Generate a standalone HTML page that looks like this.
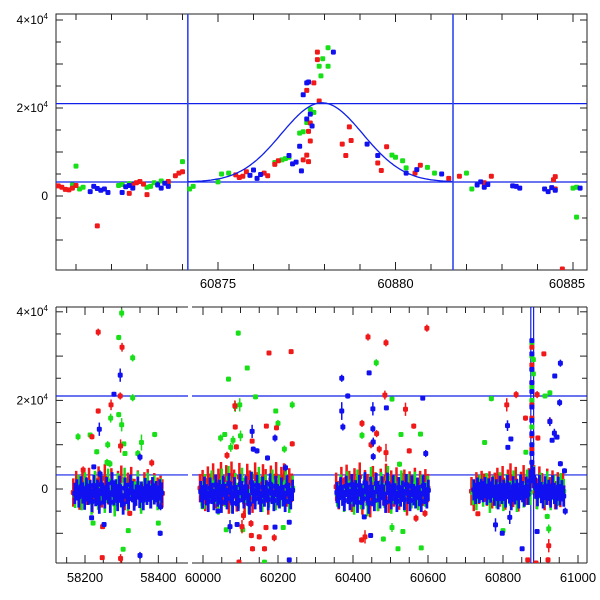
<!DOCTYPE html>
<html><head><meta charset="utf-8">
<style>
html,body{margin:0;padding:0;background:#fff;}
svg{display:block;font-family:"Liberation Sans",sans-serif;}
</style></head>
<body>
<svg id="chart" width="600" height="600" viewBox="0 0 600 600" xmlns="http://www.w3.org/2000/svg">
<defs>
<clipPath id="clipTop"><rect x="56" y="14" width="531" height="256"/></clipPath>
<clipPath id="clipS1"><rect x="56" y="307" width="132" height="256"/></clipPath>
<clipPath id="clipS2"><rect x="192" y="307" width="395" height="256"/></clipPath>
</defs>
<g id="top"></g>
<g id="bot"></g>
</svg>
<script>
// ---------- data (flux in units of 1e3) ----------
const topRed = [[60870.5,2.3],[60870.6,2.0],[60870.7,1.5],[60870.8,1.4],[60870.9,1.8],[60871.0,2.4],[60871.6,-6.8],[60872.5,0.6],[60872.6,2.5],[60872.7,3.0],[60872.8,3.3],[60872.9,2.7],[60873.0,0.3],[60873.6,3.3],[60873.8,4.6],[60873.9,5.2],[60874.0,5.5],[60875.5,4.8],[60875.6,4.2],[60875.7,4.5],[60875.8,5.5],[60876.3,5.2],[60876.4,4.6],[60876.6,7.2],[60876.7,8.0],[60877.4,8.2],[60877.5,9.3],[60877.6,12.5],[60877.55,7.8],[60877.8,32.7],[60877.8,31.0],[60877.7,25.7],[60877.5,24.0],[60877.85,21.6],[60877.6,16.6],[60877.55,14.7],[60878.7,15.7],[60878.5,11.8],[60878.6,9.2],[60878.75,12.6],[60879.5,7.5],[60879.6,5.8],[60879.75,11.2],[60880.55,5.2],[60880.7,7.0],[60881.5,4.0],[60881.8,4.5],[60882.5,3.0],[60882.7,4.5],[60884.5,4.4],[60884.5,1.6],[60884.7,-16.6],[60884.45,3.7]];
const topGreen = [[60870.9,2.5],[60871.0,6.8],[60871.1,1.6],[60871.2,2.0],[60872.2,2.4],[60872.3,2.6],[60872.5,2.8],[60873.0,2.0],[60873.1,2.2],[60873.2,3.0],[60873.4,3.4],[60873.6,2.6],[60874.0,7.8],[60874.2,1.6],[60874.3,2.2],[60875.0,3.2],[60875.1,5.0],[60875.3,5.2],[60876.6,7.6],[60876.8,8.2],[60876.9,8.5],[60877.0,8.8],[60877.3,14.3],[60877.4,14.6],[60877.5,16.7],[60877.6,19.7],[60877.7,19.0],[60878.1,33.7],[60877.95,31.2],[60877.85,29.5],[60877.9,27.3],[60878.1,29.5],[60880.0,8.8],[60879.9,9.3],[60880.2,8.0],[60880.3,6.4],[60880.9,6.5],[60881.1,5.2],[60882.0,5.2],[60882.15,1.6],[60885.0,1.8],[60885.1,2.0],[60885.1,-4.8]];
const topBlue = [[60871.4,1.0],[60871.5,2.2],[60871.6,1.7],[60871.7,1.3],[60871.8,1.6],[60871.9,0.8],[60872.3,0.8],[60872.4,2.1],[60872.5,2.4],[60872.6,1.8],[60873.3,2.5],[60873.4,1.8],[60873.5,2.9],[60873.6,2.2],[60875.9,4.7],[60876.0,5.9],[60876.1,4.0],[60876.2,4.9],[60877.0,9.2],[60877.1,7.3],[60877.2,7.7],[60877.3,11.3],[60877.35,5.7],[60877.6,18.6],[60877.65,15.9],[60877.5,17.5],[60877.4,23.0],[60877.5,25.7],[60877.55,25.9],[60878.25,32.7],[60879.2,11.8],[60879.5,9.2],[60880.3,5.2],[60880.6,6.0],[60881.3,5.0],[60882.3,2.5],[60882.4,3.2],[60882.5,2.0],[60882.6,2.6],[60883.3,2.3],[60883.4,2.2],[60883.5,1.8],[60884.2,1.6],[60884.3,1.0],[60884.4,1.9],[60884.5,1.3],[60885.2,1.8]];
const modelParams = [60877.93, 18.0, 3.18, 1.15]; // center, amplitude, baseline, sigma
const hLines = [21.0, 3.18];
const vLines = [60874.15, 60881.62];

const botRed = [[58236,35.4,0.8],[58301,32,1],[58236,17.6,0.6],[58271,19,1.2],[58296,21,0.8],[58297,9.7,1.5],[58195,4.3,0.8],[58219,11.8,0.6],[58382,5.9,0.8],[58248,-8.5,0.5],[58247,-15.5,0.5],[58297,-15.7,1],[58322,-5.5,0.6],
[60176,30.7,0.5],[60235,31,0.5],[60085,18.8,1.2],[60086,14,0.6],[60169,14.2,0.5],[60196,13.8,0.5],[60131,10.8,0.5],[60238,10.2,0.6],[60089,9.5,0.6],[60064,7.6,0.8],[60108,-6,1],[60128,-7.8,0.8],[60168,-8.7,0.6],[60129,-10.5,0.6],[60150,-10.8,0.6],[60190,-11,0.8],[60132,-13.5,0.6],[60164,-13.5,0.6],[60096,-16.5,0.6],[60104,-8.5,1.5],
[60597,36.3,0.8],[60440,34.3,0.8],[60488,33,0.8],[60485,21.2,1],[60540,18,1.5],[60562,14.2,0.6],[60424,14.8,0.8],[60463,12.5,0.8],[60448,10,0.8],[60470,9,0.8],[60488,8.2,2],[60550,8.6,0.6],[60423,-11.5,0.6],[60432,-10.8,1.5],[60592,-5.5,0.8],[60568,-6.6,0.8],
[60810,19,1.5],[60835,21.3,0.8],[60860,16,0.6],[60891,21.3,0.8],[60909,30.5,0.5],[60925,15.3,0.8],[60893,11.5,0.6],[60922,-12.8,1.5],[60920,-16,0.6],[60866,-16,0.5],[60733,-5.6,0.5],[60888,-16.7,0.5],
[60877,32,0.5],[60877,28,0.5],[60877,24,0.5],[60877,19,0.5],[60877,16,0.5],[60877,12,0.5],[60877,9,0.5]];
const botGreen = [[58300,39.7,1],[58292,34.2,0.6],[58330,29.6,0.8],[58330,20.6,0.8],[58292,16.8,0.6],[58270,16,1],[58300,14.5,1.5],[58181,11.8,0.8],[58214,12.2,0.5],[58262,10,0.8],[58306,10.2,0.5],[58354,10.5,1.8],[58390,12.3,0.6],[58232,8.4,0.6],[58260,6,0.8],[58309,8,0.5],[58344,8,0.8],[58268,5.7,0.8],[58222,-7.7,0.5],[58318,-9.4,0.5],[58304,-13.6,0.5],[58400,-7.7,0.5],
[60094,35.2,0.6],[60118,27.3,0.5],[60068,24.8,0.5],[60140,20.8,0.5],[60086,18.6,1.2],[60098,19,1.5],[60194,17.6,0.5],[60200,14.8,0.8],[60238,19,0.8],[60047,11.5,0.8],[60058,12.3,0.5],[60080,11,1],[60100,12,1.2],[60074,9.4,1],[60217,9,0.8],[60062,-9.2,0.5],[60106,-9.2,0.5],[60214,-8.7,0.5],[60164,-16.5,0.5],[60000,-4,0.5],
[60462,28.5,0.8],[60504,20.3,0.5],[60424,12.1,0.8],[60528,12.3,0.5],[60580,12.4,0.5],[60524,5.6,0.6],[60504,-8.7,1],[60533,-9.6,0.5],[60520,-13.5,0.5],[60481,-11.3,0.6],[60582,-13.3,0.5],
[60769,20.4,0.6],[60751,10.5,0.5],[60861,8.3,0.5],[60925,21.7,0.6],[60912,21,0.5],[60922,-9,1],[60918,-6.2,0.6],[60881,29.2,0.5],[60881,26,0.5],[60800,-9.4,0.5],[60788,-3,0.5],
[60877,33,0.5],[60877,30,0.5],[60877,27,0.5],[60877,23,0.5],[60877,20,0.5],[60877,14,0.5],[60877,10,0.5]];
const botBlue = [[58239,13.5,1.5],[58296,25.7,1.5],[58279,21.4,0.5],[58224,5,0.5],[58350,7.2,0.8],[58241,3.4,0.8],[58218,-6.5,0.5],[58252,-8,0.5],[58350,-15,0.8],[58405,-10,0.6],[58406,-4,0.8],
[60131,13,1.5],[60192,11.5,0.8],[60134,9,0.6],[60144,8.6,0.6],[60172,7,0.6],[60220,4.8,0.8],[60072,-8.5,1.5],[60091,-8,0.5],[60192,-8.6,0.5],[60230,-7.5,0.5],[60230,-16,0.5],[60040,-5,0.5],
[60370,25,0.8],[60370,17.6,2],[60373,14,0.8],[60386,21,0.6],[60443,26.2,0.5],[60453,18.1,1.5],[60453,13.6,0.8],[60454,10.6,1],[60489,18.3,0.5],[60454,7.3,0.8],[60586,20.5,0.5],[60594,8,0.8],[60447,-10.5,0.5],[60430,-6.3,0.5],
[60953,28.4,0.8],[60938,25.5,0.5],[60951,19.5,0.8],[60812,14.3,1.2],[60821,11.3,0.5],[60813,9.4,0.5],[60925,15.2,1],[60937,12.6,1],[60944,11.7,0.5],[60931,11,0.5],[60780,-8.1,1.5],[60798,-10,0.5],[60818,-6.4,1.5],[60851,-13.5,0.5],[60891,-9.6,0.5],[60953,5.7,0.6],[60964,4.1,0.6],[60966,-5,0.8],
[60877,33.5,0.5],[60877,30.5,0.5],[60877,27,0.5],[60877,24,0.5],[60877,22,0.5],[60877,18.5,0.5],[60877,15.5,0.5],[60877,12.5,0.5],[60877,10,0.5],[60877,8,0.5],[60877,6,0.5]];

// dense seasonal clouds: "mjd flux" pairs
const blobRed = "58168 -0.8,58176 0.9,58185 -1.5,58193 1.2,58202 -0.4,58211 1.6,58220 -2.2,58228 0.7,58237 1.9,58246 -1.0,58254 2.4,58263 -0.3,58272 1.5,58281 -2.8,58290 0.9,58299 2.1,58308 -1.6,58317 0.5,58326 1.8,58335 -0.9,58344 1.0,58353 -1.8,58362 0.6,58371 1.3,58380 -1.2,58389 0.4,58398 -0.6,58406 -0.2,58411 -1.0,"+
"59992 0.2,59999 1.1,60006 -1.8,60013 1.9,60020 0.3,60027 2.6,60034 -1.2,60041 1.4,60048 2.9,60055 -0.6,60062 2.2,60069 -2.4,60076 3.0,60083 1.2,60090 -1.9,60097 2.7,60104 0.4,60111 -3.0,60118 2.5,60125 1.0,60132 -2.2,60139 2.8,60146 0.6,60153 -1.4,60160 2.4,60167 1.3,60174 -2.6,60181 2.1,60188 0.2,60195 2.9,60202 -1.0,60209 1.8,60216 2.6,60223 -0.8,60230 1.5,60237 0.3,"+
"60355 0.5,60362 -1.4,60369 1.8,60376 -0.6,60383 2.3,60390 0.9,60397 -2.0,60404 1.5,60411 -0.3,60418 2.8,60425 -2.6,60432 1.1,60439 0.2,60446 -3.2,60453 2.0,60460 0.6,60467 -1.8,60474 1.4,60481 -0.4,60488 2.5,60495 -2.2,60502 1.0,60509 -0.8,60516 1.7,60523 -1.5,60530 0.4,60537 1.2,60544 -2.8,60551 0.8,60558 -0.2,60565 1.6,60572 -1.1,60579 0.9,60586 -0.6,60593 1.3,60600 0.2,"+
"60716 -0.5,60722 -1.8,60729 0.6,60736 -0.2,60743 0.9,60750 0.3,60757 -0.6,60764 0.8,60771 -1.2,60778 0.5,60785 1.6,60792 -0.8,60799 2.0,60806 -1.5,60813 1.2,60820 2.6,60827 -0.9,60834 1.8,60841 -1.9,60848 0.7,60855 2.2,60862 -0.4,60869 1.5,60876 3.4,60883 2.2,60890 -1.3,60897 1.9,60904 0.4,60911 -1.6,60918 1.4,60925 -0.5,60932 1.0,60939 -1.4,60946 0.6,60953 -0.9,60960 0.4";
const blobGreen = "58173 -1.5,58182 0.4,58191 -2.0,58200 1.0,58209 -0.8,58218 -3.0,58227 1.3,58236 -1.9,58245 0.2,58254 -2.6,58263 1.8,58272 -0.5,58281 -3.4,58290 0.8,58299 -1.4,58308 2.0,58317 -2.2,58326 0.1,58335 -1.1,58344 1.2,58353 -2.8,58362 -0.3,58371 0.9,58380 -1.6,58389 0.3,58398 -2.0,58407 -0.4,"+
"59996 -1.0,60005 0.6,60014 -2.2,60023 1.4,60032 -0.5,60041 -3.0,60050 1.8,60059 -1.2,60068 2.4,60077 -2.6,60086 0.8,60095 -1.6,60104 2.0,60113 -0.4,60122 -2.8,60131 1.1,60140 -1.0,60149 2.2,60158 -2.4,60167 0.5,60176 -1.4,60185 1.6,60194 -2.0,60203 0.3,60212 -1.2,60221 1.5,60230 -2.6,60239 0.2,"+
"60358 -1.2,60367 0.5,60376 -2.4,60385 1.2,60394 -0.6,60403 -3.0,60412 1.6,60421 -1.8,60430 0.4,60439 -3.4,60448 2.2,60457 -0.9,60466 -2.2,60475 1.0,60484 -1.5,60493 2.4,60502 -2.8,60511 0.2,60520 -1.0,60529 1.4,60538 -2.4,60547 0.6,60556 -1.6,60565 1.1,60574 -2.0,60583 0.4,60592 -1.2,60599 0.2,"+
"60720 -0.8,60729 -2.0,60738 0.4,60747 -1.2,60756 0.8,60765 -2.6,60774 0.2,60783 -1.6,60792 1.0,60801 -2.2,60810 0.6,60819 -1.0,60828 1.4,60837 -2.4,60846 0.5,60855 -1.4,60864 1.6,60873 -0.8,60882 2.4,60891 -1.8,60900 0.9,60909 -1.2,60918 1.2,60927 -2.0,60936 0.3,60945 -1.1,60954 0.8,60962 -0.5";
const blobBlue = "58172 -1.0,58178 -0.2,58183 -1.8,58189 0.5,58194 -0.9,58199 -2.3,58204 0.2,58209 -1.2,58214 -0.4,58219 -2.8,58224 0.8,58229 -1.5,58234 -0.3,58239 -3.2,58244 1.0,58249 -1.1,58254 -2.0,58259 0.3,58264 -0.8,58269 -3.0,58274 1.4,58279 -1.3,58284 -0.2,58289 -2.6,58294 0.6,58299 -1.7,58304 -3.4,58309 0.2,58314 -1.0,58319 -2.2,58324 0.9,58329 -0.6,58334 -2.5,58339 -1.4,58344 0.4,58349 -1.9,58354 -0.7,58359 -2.4,58364 0.1,58369 -1.2,58374 -0.5,58379 -2.0,58384 0.3,58389 -1.1,58394 -0.6,58399 -1.6,58404 -0.2,58409 -0.9,"+
"59994 -0.6,59999 -2.0,60004 0.4,60009 -1.3,60014 -2.8,60019 0.2,60024 -1.0,60029 -2.4,60034 0.9,60039 -1.6,60044 -0.3,60049 -3.0,60054 0.6,60059 -1.2,60064 -2.2,60069 1.2,60074 -0.8,60079 -3.2,60084 0.3,60089 -1.5,60094 -2.6,60099 1.0,60104 -0.6,60109 -2.0,60114 0.5,60119 -1.4,60124 -3.4,60129 1.5,60134 -0.9,60139 -2.2,60144 0.8,60149 -1.1,60154 -2.8,60159 0.4,60164 -1.6,60169 -0.4,60174 -2.4,60179 1.1,60184 -1.0,60189 -2.6,60194 0.6,60199 -1.3,60204 -2.0,60209 0.2,60214 -1.5,60219 -2.8,60224 0.7,60229 -1.0,60234 -2.2,60239 -0.3,"+
"60357 -0.8,60362 -2.0,60367 0.3,60372 -1.4,60377 -2.6,60382 0.6,60387 -1.0,60392 -2.4,60397 1.0,60402 -1.6,60407 -0.4,60412 -3.0,60417 0.8,60422 -1.2,60427 -2.2,60432 1.4,60437 -0.7,60442 -3.2,60447 0.4,60452 -1.5,60457 -2.6,60462 1.2,60467 -0.6,60472 -2.0,60477 0.5,60482 -1.4,60487 -3.0,60492 1.3,60497 -0.9,60502 -2.2,60507 0.7,60512 -1.1,60517 -2.8,60522 0.3,60527 -1.6,60532 -0.5,60537 -2.4,60542 1.0,60547 -1.0,60552 -2.6,60557 0.6,60562 -1.3,60567 -2.0,60572 0.2,60577 -1.5,60582 -2.8,60587 0.7,60592 -1.0,60597 -2.0,60601 -0.3,"+
"60722 -0.2,60727 -1.0,60732 0.2,60737 -0.8,60742 -0.1,60747 -0.6,60752 0.3,60757 -1.2,60762 0.0,60767 -0.7,60772 0.4,60777 -1.4,60782 -0.2,60787 -2.2,60792 0.6,60797 -1.0,60802 -0.3,60807 -1.8,60812 0.8,60817 -0.9,60822 -2.4,60827 0.5,60832 -1.1,60837 -0.2,60842 -2.0,60847 0.9,60852 -0.6,60857 -1.6,60862 0.4,60867 -1.2,60872 1.8,60877 4.0,60882 2.6,60887 0.2,60892 -1.5,60897 0.8,60902 -0.8,60907 -2.0,60912 0.5,60917 -1.2,60922 -0.3,60927 -1.8,60932 0.7,60937 -1.0,60942 -2.2,60947 0.4,60952 -1.3,60957 -0.4,60962 -1.6";

const yTicksTop = [-10,-5,0,5,10,15,20,25,30,35,40];
const yLabels = [[0,"0"],[20,"2"],[40,"4"]];
const xTicksTop = [60871,60872,60873,60874,60875,60876,60877,60878,60879,60880,60881,60882,60883,60884,60885];
const xLabelsTop = [60875,60880,60885];
const xLabelsBot = [58200,58400,60000,60200,60400,60600,60800,61000];

// ---------- scales ----------
const NS="http://www.w3.org/2000/svg";
const T={x0:56,x1:587,y0:14,y1:270};
const txs = t => 218 + (t-60875)*35.5;
const tys = f => 196 - f*4.4;
const S1={x0:56,x1:188,t0:58122.7}, S2={x0:192,x1:587,t0:59970.7};
const bxs = t => t<59000 ? 85+(t-58200)*0.3667 : 203+(t-60000)*0.375;
const bys = f => 489 - f*4.43;
const BY0=307, BY1=563;

function el(tag, attrs, parent){
  const e=document.createElementNS(NS,tag);
  for(const k in attrs) e.setAttribute(k,attrs[k]);
  parent.appendChild(e); return e;
}
const COL={red:"#f01818",green:"#18e018",blue:"#1010f0"};

function pts(g, data, xs, ys, color, name, errDefault, size, ew){
  size = size || 4; ew = ew || 1.2;
  data.forEach(d=>{
    const x=xs(d[0]), y=ys(d[1]);
    const e = d.length>2 ? d[2] : errDefault;
    if(e){
      const l=el('line',{x1:x,x2:x,y1:ys(d[1]+e),y2:ys(d[1]-e),stroke:color,'stroke-width':ew},g);
      
      
    }
    const r=el('rect',{x:x-size/2,y:y-size/2,width:size,height:size,rx:1.2,fill:color},g);
    
    
  });
}
function parseBlob(s){ return s.split(',').map(p=>p.trim().split(' ').map(Number)); }

function ySup(g, x, y, mant){
  const t=el('text',{x:x,y:y+4,'font-size':12,'text-anchor':'end',fill:'#000'},g);
  
  
  if(mant==="0"){ t.textContent="0"; return; }
  t.textContent=mant+"×10";
  const s=el('tspan',{dy:-5,'font-size':8},t); s.textContent="4";
}

// ---------- top panel ----------
const gt=document.getElementById('top');
el('rect',{x:T.x0,y:T.y0,width:T.x1-T.x0,height:T.y1-T.y0,fill:'none',stroke:'#222','stroke-width':1},gt);
yTicksTop.forEach(v=>{
  const y=tys(v); if(y<T.y0||y>T.y1) return;
  const len = v%10===0?7:5;
  el('line',{x1:T.x0,x2:T.x0+len,y1:y,y2:y,stroke:'#222'},gt);
  el('line',{x1:T.x1,x2:T.x1-len,y1:y,y2:y,stroke:'#222'},gt);
});
yLabels.forEach(l=>ySup(gt,48,tys(l[0]),l[1]));
xTicksTop.forEach(v=>{
  const x=txs(v); const len = xLabelsTop.includes(v)?8:6;
  el('line',{x1:x,x2:x,y1:T.y1,y2:T.y1-len,stroke:'#222'},gt);
  el('line',{x1:x,x2:x,y1:T.y0,y2:T.y0+len,stroke:'#222'},gt);
});
xLabelsTop.forEach(v=>{
  const x=Math.min(txs(v),567);
  const t=el('text',{x:x,y:288,'font-size':13,'text-anchor':'middle'},gt);
  t.textContent=v;
  
  
});
const gtc=el('g',{'clip-path':'url(#clipTop)'},gt);
hLines.forEach(h=>{ const l=el('line',{x1:T.x0,x2:T.x1,y1:tys(h),y2:tys(h),stroke:'#1020e8','stroke-width':1.2},gtc);  });
vLines.forEach(v=>{ const l=el('line',{x1:txs(v),x2:txs(v),y1:T.y0,y2:T.y1,stroke:'#3048f0','stroke-width':1.6},gtc);  });
pts(gtc, topGreen, txs, tys, COL.green, 'point-green', 0, 5);
pts(gtc, topRed, txs, tys, COL.red, 'point-red', 0, 5);
pts(gtc, topBlue, txs, tys, COL.blue, 'point-blue', 0, 5);
// model curve
{
  const [c,a,b,s]=modelParams; let d="";
  for(let t=vLines[0]; t<=vLines[1]; t+=0.05){
    const f=b+a*Math.exp(-((t-c)**2)/(2*s*s));
    d+=(d?"L":"M")+txs(t).toFixed(1)+","+tys(f).toFixed(1);
  }
  const p=el('path',{d:d,fill:'none',stroke:'#1020e8','stroke-width':1.3},gtc);
  
  
}

// ---------- bottom panel ----------
const gb=document.getElementById('bot');
[S1,S2].forEach((S,i)=>{
  el('line',{x1:S.x0,x2:S.x1,y1:BY0,y2:BY0,stroke:'#222'},gb);
  el('line',{x1:S.x0,x2:S.x1,y1:BY1,y2:BY1,stroke:'#222'},gb);
  const tStart=Math.ceil((S.t0)/50)*50;
  for(let t=tStart;;t+=50){
    const x=bxs(t); if(x>S.x1) break; if(x<S.x0) continue;
    const len = t%200===0?8:6;
    el('line',{x1:x,x2:x,y1:BY1,y2:BY1-len,stroke:'#222'},gb);
    el('line',{x1:x,x2:x,y1:BY0,y2:BY0+len,stroke:'#222'},gb);
  }
});
el('line',{x1:56,x2:56,y1:BY0,y2:BY1,stroke:'#222'},gb);
el('line',{x1:587,x2:587,y1:BY0,y2:BY1,stroke:'#222'},gb);
yTicksTop.forEach(v=>{
  const y=bys(v); if(y<BY0||y>BY1) return;
  const len = v%10===0?7:5;
  el('line',{x1:56,x2:56+len,y1:y,y2:y,stroke:'#222'},gb);
  el('line',{x1:587,x2:587-len,y1:y,y2:y,stroke:'#222'},gb);
});
yLabels.forEach(l=>ySup(gb,48,bys(l[0]),l[1]));
xLabelsBot.forEach(v=>{
  let x=bxs(v);
  const t=el('text',{x:x,y:582,'font-size':13,'text-anchor':'middle'},gb);
  t.textContent=v;
  
  
});
[['clipS1',S1],['clipS2',S2]].forEach(([cid,S])=>{
  const g=el('g',{'clip-path':'url(#'+cid+')'},gb);
  hLines.forEach(h=>{ const l=el('line',{x1:S.x0,x2:S.x1,y1:bys(h),y2:bys(h),stroke:'#1020e8','stroke-width':1.2},g);  });
  vLines.forEach(v=>{ const l=el('line',{x1:bxs(v),x2:bxs(v),y1:BY0,y2:BY1,stroke:'#1020e8','stroke-width':1.2},g);  });
  pts(g, parseBlob(blobRed), bxs, bys, COL.red, 'point-red', 3.2, 5, 2.5);
  pts(g, parseBlob(blobGreen), bxs, bys, COL.green, 'point-green', 2.8, 5, 2.5);
  pts(g, botGreen, bxs, bys, COL.green, 'point-green', 0, 5, 1.5);
  pts(g, botRed, bxs, bys, COL.red, 'point-red', 0, 5, 1.5);
  pts(g, parseBlob(blobBlue), bxs, bys, COL.blue, 'point-blue', 2.4, 5, 2.8);
  pts(g, botBlue, bxs, bys, COL.blue, 'point-blue', 0, 5, 1.5);
});
</script>
</body></html>
